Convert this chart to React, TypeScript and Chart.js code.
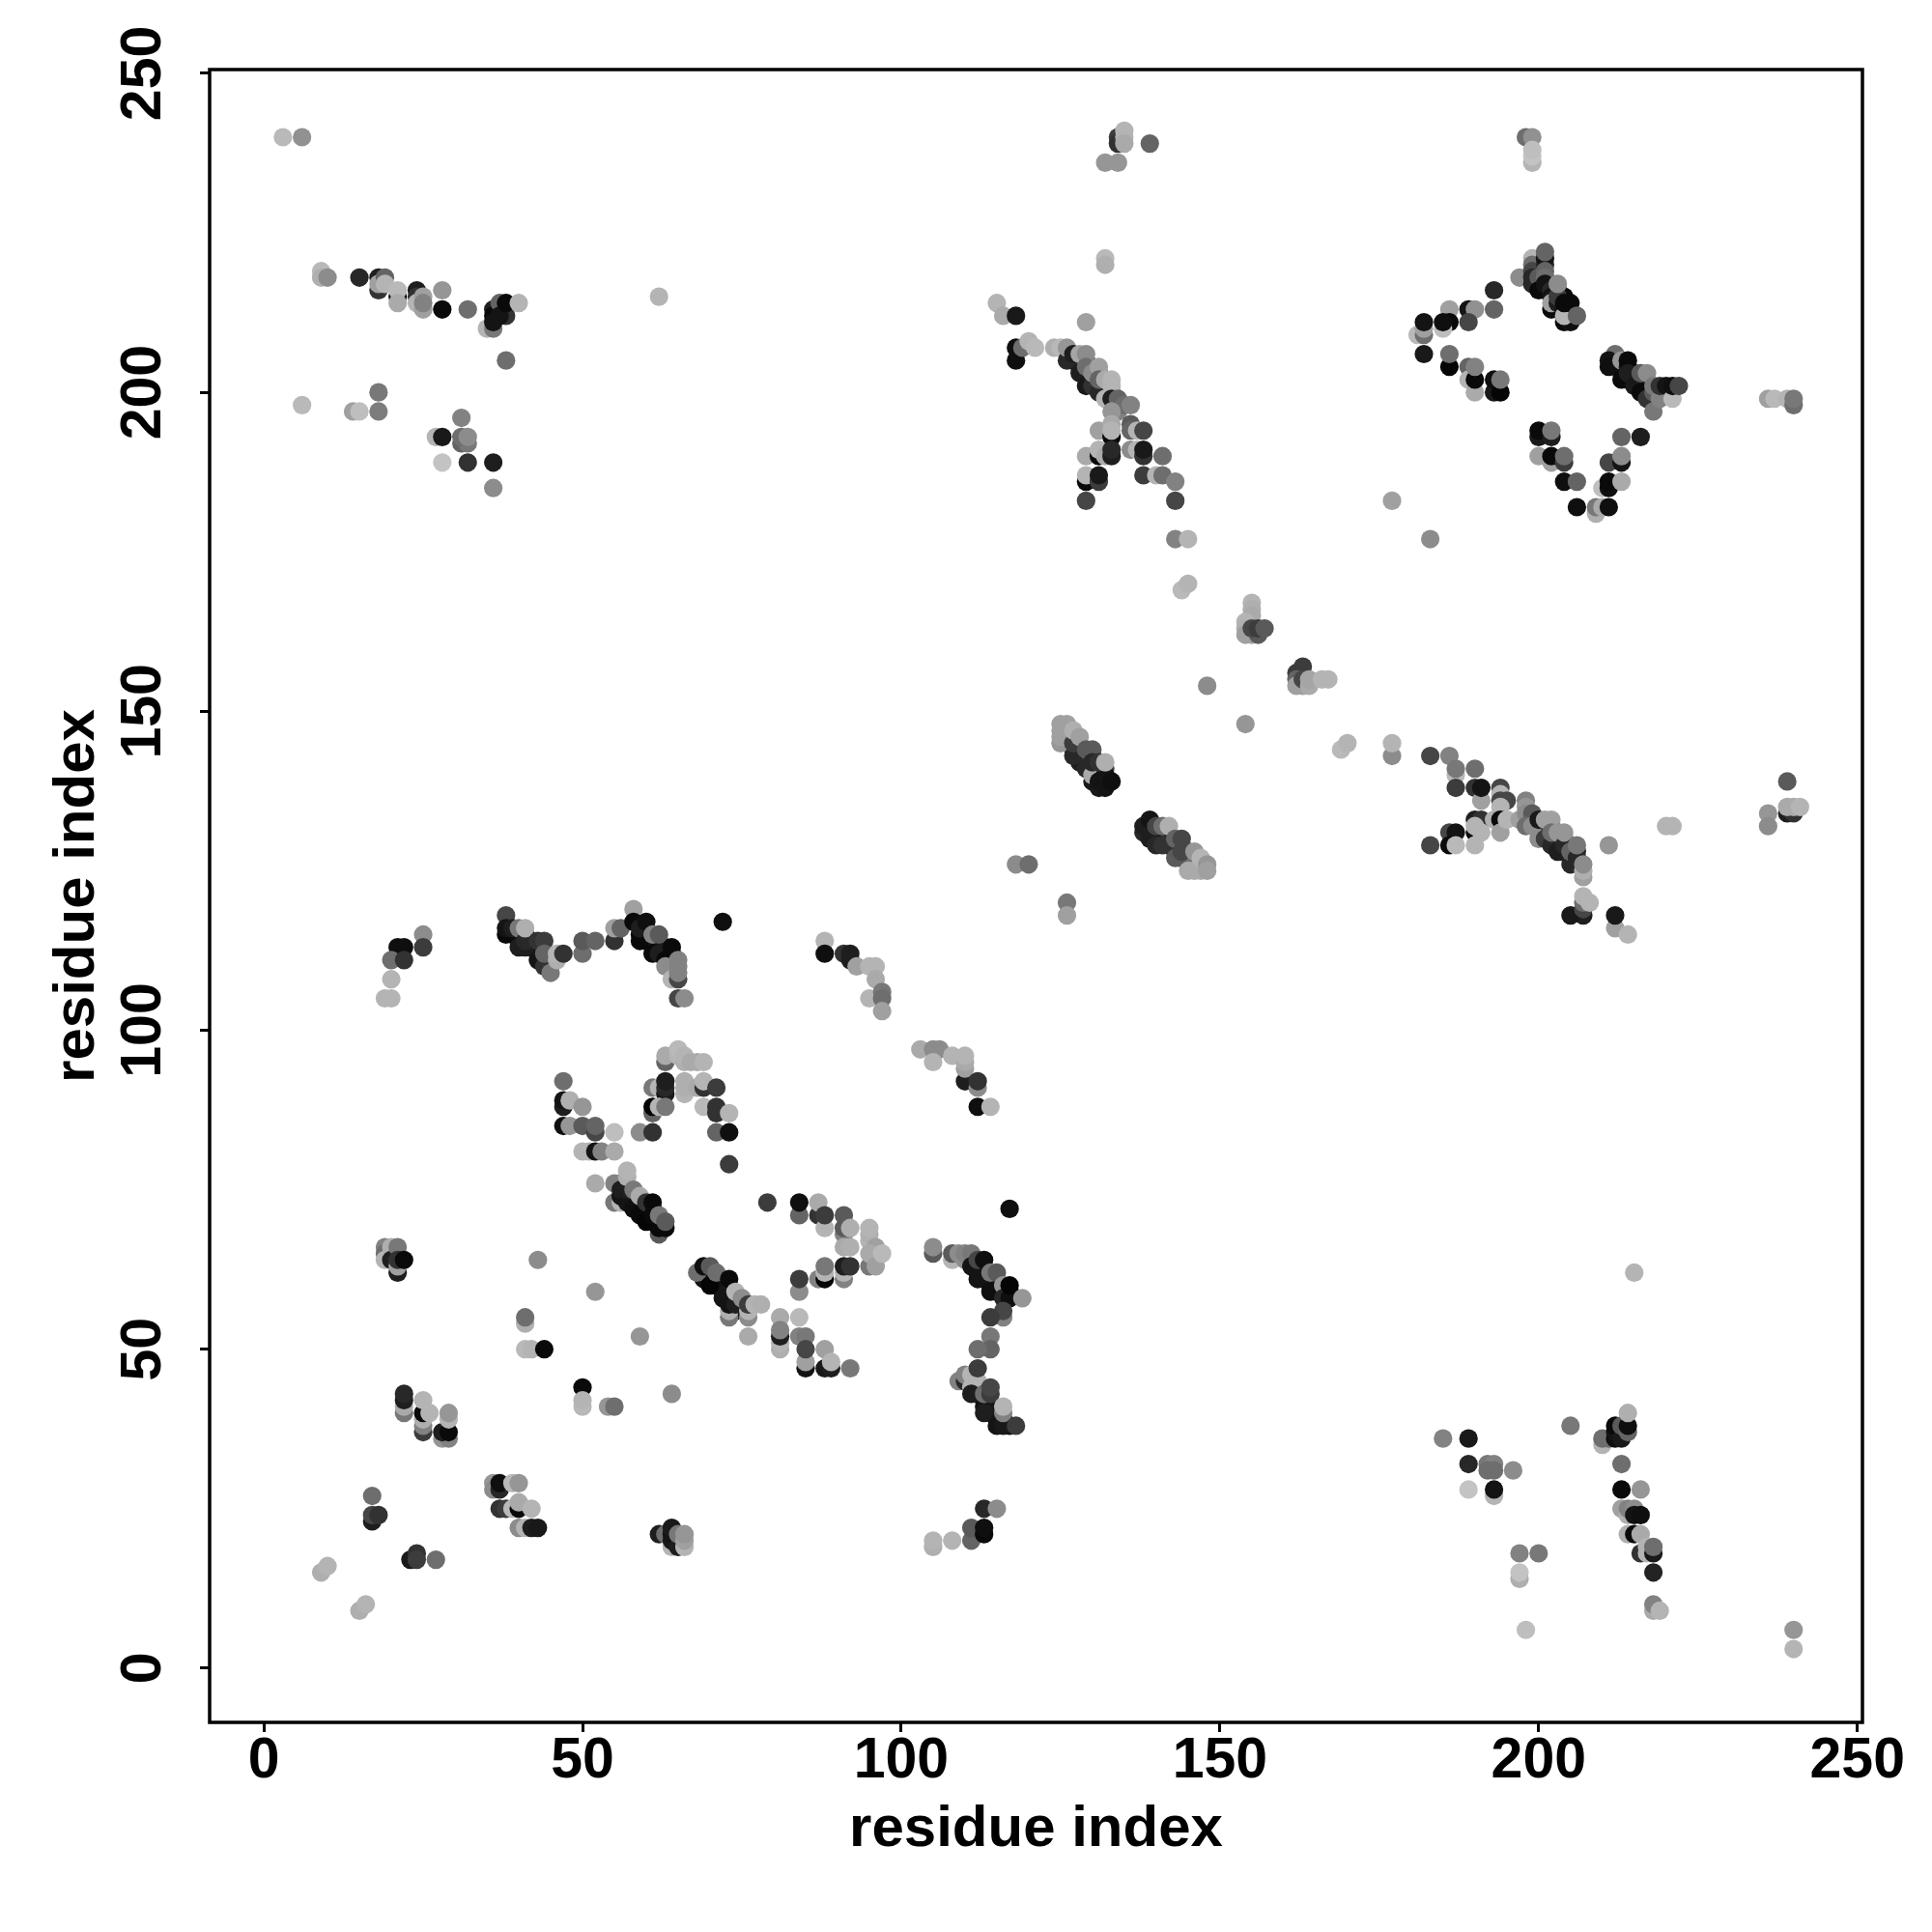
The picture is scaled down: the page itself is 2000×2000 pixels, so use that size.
import React, { useEffect, useRef } from "react";
import { Chart, registerables } from "chart.js";

Chart.register(...registerables);

type Contact = [number, number, number]; // residue x, residue y, grey level

const xTickValues = [0, 50, 100, 150, 200, 250];
const yTickValues = [0, 50, 100, 150, 200, 250];
const axisTitle = "residue index";

const upperLeft: Contact[] = [
  [3,240,175],[6,240,135],[9,219,175],[9,218,165],[10,218,130],[15,218,40],[18,216,50],[18,218,30],[18,217,150],[19,218,90],[19,217,170],
  [21,215,10],[21,216,175],[21,214,160],[24,216,30],[24,215,50],[24,214,170],[25,215,150],[25,213,150],[25,214,120],[28,216,140],[28,213,10],[32,213,100],
  [35,210,170],[36,210,110],[36,213,30],[36,212,10],[36,211,20],[37,214,90],[38,212,50],[37,212,20],[38,214,10],[40,214,170],[38,205,100],[62,215,170],
  [6,198,175],[14,197,150],[15,197,180],[18,200,110],[18,197,115],[31,196,120],[27,193,170],[28,193,25],[31,192,90],[32,192,110],[31,193,100],[32,193,130],
  [28,189,185],[32,189,50],[36,189,30],[36,185,130],
];

const topCentre: Contact[] = [
  [134,240,60],[134,239,50],[135,241,170],[135,240,170],[135,239,160],[132,236,140],[134,236,140],[139,239,90],[132,221,175],[132,220,165],
  [198,240,100],[199,240,135],[199,236,170],[199,237,185],[199,238,180],
];

const diamond: Contact[] = [
  [200,217,15],[201,216,10],[202,217,20],[203,216,15],[204,215,10],[200,219,30],[200,218,20],[203,213,10],[205,212,15],[212,205,15],[213,204,10],[213,203,15],[214,202,10],[215,203,20],[216,202,15],[217,201,15],[217,200,20],[218,199,30],
  [193,216,40],[193,213,90],[189,213,20],[190,213,135],[186,213,150],[189,211,70],[186,211,10],[185,210,180],[185,211,15],[181,209,175],[182,209,100],[182,210,150],[182,211,20],[182,206,25],
  [186,204,5],[186,206,100],[189,204,90],[189,202,170],[190,200,160],[190,202,10],[190,204,120],[193,200,25],[193,202,15],[194,200,5],[194,202,110],
  [197,218,130],[199,221,170],[199,220,100],[199,219,70],[199,218,40],[199,217,40],[200,218,80],[200,216,10],[201,220,40],[201,221,20],[201,219,90],[201,218,100],[201,217,20],[201,222,90],
  [202,216,40],[202,215,20],[202,213,10],[202,214,150],[203,214,30],[203,215,60],[203,217,130],[204,213,20],[204,211,10],[205,211,15],[204,212,170],[204,214,10],[205,214,10],[206,212,90],
  [212,206,100],[211,205,20],[211,204,15],[213,205,140],[214,204,20],[214,205,10],[213,202,10],[214,203,30],[215,202,30],[215,201,25],[216,200,10],[216,203,80],[217,203,130],[217,199,50],[218,197,110],
  [218,200,80],[218,201,110],[219,199,120],[219,201,50],[220,201,20],[221,199,175],[221,201,15],[222,201,70],
  [200,193,25],[200,194,10],[202,193,30],[202,194,110],[200,190,150],[202,189,150],[202,190,10],[204,189,60],[204,190,100],[204,186,15],[206,186,90],
  [206,182,15],[209,181,165],[209,182,110],[210,182,160],[211,182,15],[210,185,180],[211,185,15],[211,186,10],[213,186,160],[211,189,70],[213,189,20],[213,190,130],[213,193,90],[216,193,30],
  [236,199,150],[237,199,175],[239,199,170],[240,198,100],[240,199,110],[177,183,150],[183,177,130],
];

const upperArc: Contact[] = [
  [127,205,20],[128,204,15],[129,203,25],[130,202,20],[131,201,30],[132,200,30],[128,205,40],[129,205,60],[130,204,70],[131,203,60],[132,201,50],[133,200,60],[134,198,80],[134,197,120],
  [115,214,170],[116,212,160],[118,212,25],[118,205,15],[118,207,15],[119,207,100],[120,208,170],[121,207,175],[129,211,150],[124,207,165],[125,207,175],[126,205,40],[126,207,140],
  [127,206,30],[128,206,155],[129,206,130],[128,203,30],[129,201,25],[130,201,50],[129,204,100],[130,203,130],[131,200,40],[131,204,150],[131,202,90],[132,199,170],[132,202,160],[133,202,170],[133,201,170],
  [133,199,30],[134,199,90],[135,198,100],[136,198,120],[133,197,140],[131,194,150],[133,193,10],[133,195,160],[133,194,170],[136,195,80],[136,194,90],[137,194,170],[138,194,70],
  [136,191,130],[137,191,170],[138,190,50],[138,191,25],[141,190,100],[138,187,60],[140,187,170],[141,187,100],[143,186,120],[143,183,70],
  [129,190,160],[131,190,10],[131,191,170],[132,190,160],[133,190,30],[133,191,40],[129,186,10],[129,187,170],[131,186,60],[131,187,25],[129,183,70],
  [143,177,120],[145,177,170],[144,169,175],[145,170,170],
];

const diagonal: Contact[] = [
  [155,167,170],[155,166,165],[155,165,160],[154,164,170],[154,163,165],[154,162,150],[155,162,150],[156,162,80],[155,163,70],[156,163,60],[157,163,80],
  [148,154,130],[154,148,140],[163,157,60],[162,156,60],[162,155,90],[162,154,150],[163,154,150],[163,155,70],[164,154,160],[164,155,155],[166,155,170],[167,155,170],
  [169,144,175],[170,145,170],[177,143,130],[177,145,170],
];

const rightArc: Contact[] = [
  [199,133,40],[200,132,30],[201,131,30],[202,130,40],[203,129,30],[204,128,40],[205,127,30],[206,128,40],[201,132,60],[202,132,80],[203,130,70],[204,130,90],
  [183,143,70],[186,143,120],[187,140,175],[187,141,110],[187,138,60],[190,141,100],[190,138,50],[191,136,150],[191,138,20],[194,138,70],[194,137,170],[194,136,70],[195,136,70],[194,135,170],
  [190,133,30],[191,133,50],[190,131,10],[190,132,170],[191,131,170],[186,131,70],[187,131,20],[186,129,10],[187,129,175],[183,129,70],[190,129,170],
  [193,133,165],[194,133,10],[194,131,150],[195,133,170],[197,133,150],[198,136,120],[198,135,140],[198,134,130],[199,134,80],[198,132,100],[199,132,130],[200,130,130],[200,133,25],[201,130,60],
  [201,133,150],[202,133,150],[202,129,40],[203,128,30],[202,131,100],[203,131,140],[204,129,40],[204,131,140],[205,126,40],[205,128,90],[206,127,40],[206,129,110],[207,124,150],[207,125,165],[207,126,130],
  [207,118,30],[205,118,25],[207,119,70],[207,120,100],[207,121,170],[208,120,170],[212,116,150],[212,118,25],[214,115,170],[211,129,140],[220,132,170],[221,132,170],
  [239,139,80],[236,134,140],[236,132,130],[239,134,30],[240,134,50],[239,135,160],[240,135,160],[241,135,170],
];

const centreStreaks: Contact[] = [
  [118,126,130],[120,126,100],[126,120,110],[126,118,150],
  [127,144,40],[128,143,30],[129,142,25],[130,141,25],[131,140,20],[128,142,30],[129,143,50],[130,139,25],[131,141,30],[132,139,20],[132,141,60],[130,143,60],
  [139,132,20],[140,131,20],[141,130,25],[142,129,30],[143,128,40],[144,127,60],[145,126,90],[140,130,30],[141,131,30],[142,130,40],[143,129,50],[144,129,60],[145,128,80],[146,127,100],
  [125,145,140],[125,146,150],[125,147,150],[125,148,150],[126,148,150],[127,143,40],[127,145,60],[127,147,165],[128,146,150],[129,141,40],[129,144,80],[130,140,160],[130,144,80],[130,142,40],
  [131,138,25],[131,139,20],[132,138,20],[132,140,20],[131,142,50],[132,142,165],[133,139,15],
  [138,131,40],[138,132,30],[139,130,30],[139,133,20],[140,129,40],[140,132,70],[141,129,50],[141,132,100],[142,132,165],[143,127,80],[143,130,90],[144,128,70],[144,130,70],
  [145,125,160],[146,125,160],[147,125,160],[146,128,140],[147,127,170],[148,126,140],[148,125,150],
];

const middleLeft: Contact[] = [
  [39,115,20],[40,114,20],[41,115,30],[42,113,30],[43,112,20],[44,111,30],[42,114,40],
  [59,115,10],[60,115,10],[60,114,15],[61,114,20],[62,113,20],[63,112,15],[63,113,30],[64,110,20],[64,111,15],[64,112,15],
  [25,115,130],[21,113,15],[22,113,15],[25,113,60],[20,111,100],[22,111,50],[20,108,170],[19,105,170],[20,105,170],
  [38,118,70],[38,115,10],[38,116,20],[39,116,30],[40,113,30],[40,116,110],[41,113,30],[41,114,40],[41,116,165],[43,111,20],[43,114,50],[44,114,60],[44,110,50],[45,109,110],[44,112,90],[46,111,165],[46,112,170],[47,112,50],
  [50,112,100],[50,114,80],[52,114,90],[55,114,50],[55,116,150],[56,116,90],[58,119,150],[58,117,10],[59,114,10],[59,116,30],[60,117,15],[61,112,10],[61,115,120],[62,112,30],[62,115,80],[63,111,10],[63,110,130],[64,113,10],
  [64,108,170],[65,108,70],[65,109,120],[65,110,120],[65,111,120],[65,105,70],[66,105,130],[72,117,15],
  [88,114,170],[88,112,15],[91,112,50],[92,111,30],[92,112,30],[93,110,150],[95,110,170],[96,110,170],[96,108,160],[95,105,170],[97,106,110],[97,105,100],[97,103,150],
  [103,97,160],[105,97,130],[106,97,130],[105,95,170],[108,96,170],[110,92,30],[110,94,150],[110,95,160],[110,96,170],[112,91,130],[112,92,50],[112,88,15],[114,88,170],
];

const humpAndStreaks: Contact[] = [
  [69,62,15],[70,61,10],[71,60,10],[72,59,15],[73,58,15],[74,56,25],[70,62,20],[71,61,15],[72,60,20],[73,59,25],[74,58,30],[75,57,40],[69,61,20],
  [57,74,15],[58,73,10],[59,72,10],[60,71,10],[61,70,10],[62,70,15],[58,74,25],[59,73,20],[60,72,25],[61,72,30],[56,76,40],
  [47,92,100],[47,88,30],[47,89,20],[48,89,165],[50,88,140],[47,85,15],[48,85,140],[50,85,80],[52,84,70],[52,85,90],[55,84,180],[50,81,170],[51,81,170],[52,81,20],[53,81,120],[55,81,160],
  [52,76,160],[55,76,120],[55,73,110],[56,73,170],[56,74,20],[56,75,30],[57,73,20],[57,75,30],[58,72,15],[57,77,165],[57,78,170],[58,75,110],[59,71,10],[59,74,160],[60,70,5],[60,73,50],[61,73,10],[61,71,10],[62,68,80],[62,69,10],[63,69,10],[62,71,110],[63,70,80],
  [61,91,110],[62,91,170],[63,95,90],[63,96,160],[65,96,170],[65,97,175],[66,95,165],[66,96,170],[67,95,160],[68,95,160],[69,95,170],[63,90,25],[63,91,40],[63,92,30],[66,90,170],[66,91,165],[66,92,165],[68,91,160],[69,91,50],[69,92,170],[71,91,60],
  [61,87,90],[61,88,5],[62,88,170],[63,88,110],[69,88,175],[71,87,50],[71,88,50],[73,87,170],[59,84,130],[61,84,50],[71,84,90],[73,84,15],[73,79,60],
  [79,73,60],[84,71,90],[84,73,15],[87,71,50],[87,73,160],[88,69,170],[88,71,60],[91,68,120],[91,69,80],[91,71,80],[92,69,165],[95,67,170],[95,68,165],[95,69,170],[96,66,150],[95,63,110],[95,65,160],[96,63,150],[97,65,175],
  [91,66,160],[92,66,165],[91,61,120],[91,62,170],[91,63,30],[92,63,50],[87,61,120],[88,61,5],[88,62,170],[88,63,110],[84,59,130],[84,61,60],
  [68,62,100],[69,63,15],[70,60,5],[70,63,80],[71,62,100],[72,58,20],[73,55,110],[73,56,165],[73,57,20],[73,61,10],[74,57,30],[74,59,170],[75,58,130],[76,55,130],[76,56,170],[76,57,60],[77,57,170],[78,57,165],[76,52,160],
  [81,55,160],[84,55,175],[81,50,165],[81,51,170],[81,52,30],[81,53,120],[84,52,120],[85,52,110],[85,47,20],[85,48,150],[85,50,70],[88,50,150],[88,47,25],[89,47,30],[89,48,170],[92,47,110],
  [52,59,140],[59,52,140],[44,50,10],[43,64,130],
];

const lowerLeft: Contact[] = [
  [19,66,120],[19,65,100],[19,64,170],[20,66,165],[20,64,30],[21,66,110],[21,62,30],[21,63,150],[21,64,50],[22,64,10],
  [41,54,165],[41,55,100],[41,50,175],[42,50,170],[50,44,10],[50,41,175],[50,42,170],[54,41,140],[55,41,100],[64,43,130],
  [22,40,110],[22,41,160],[22,42,30],[22,43,40],[25,37,60],[25,38,120],[25,39,165],[25,40,10],[25,42,170],[26,40,170],
  [28,36,140],[29,36,120],[28,37,30],[29,37,10],[29,39,170],[29,40,140],
  [17,27,100],[17,23,30],[17,24,70],[18,24,50],[23,17,25],[24,18,50],[24,17,60],[27,17,100],[9,15,165],[10,16,170],[15,9,165],[16,10,170],
  [36,29,140],[36,28,130],[37,28,40],[37,29,15],[39,29,175],[40,29,140],[37,25,50],[38,25,60],[39,25,175],[40,25,10],[40,26,160],[42,25,170],[40,22,130],[41,22,170],[42,22,30],[43,22,25],
  [62,21,30],[63,21,100],[64,19,170],[64,20,25],[64,21,20],[64,22,25],[65,19,30],[65,21,110],[66,19,170],[66,20,150],[66,21,140],
  [105,19,165],[105,20,170],[108,20,170],[111,20,90],[111,22,80],[113,21,10],[113,22,15],[113,25,40],[115,25,130],
];

const verticalBand: Contact[] = [
  [111,64,15],[112,63,10],[113,62,10],[114,61,15],[115,60,10],[116,59,10],[117,59,10],[112,62,15],[113,61,15],[114,60,20],[115,59,15],
  [111,45,20],[112,44,15],[113,42,15],[114,41,20],[115,40,15],[116,39,15],[112,43,20],[113,41,20],[114,40,25],[115,39,20],[117,38,15],
  [105,65,80],[105,66,130],[108,64,170],[108,65,80],[109,65,130],[110,64,130],[110,65,120],[111,65,110],[111,63,20],[112,61,20],[112,64,70],[113,64,15],[114,59,15],[114,62,110],[115,62,80],[116,60,140],
  [116,58,40],[117,58,15],[117,60,5],[119,58,140],[116,55,120],[116,56,70],[114,55,60],[114,52,110],[114,50,90],[112,50,100],[117,72,15],[215,62,170],
  [109,45,120],[110,45,40],[110,46,120],[111,44,170],[111,46,170],[112,45,170],[112,47,60],[111,43,30],[113,40,30],[113,43,100],[114,43,60],[114,44,70],[115,38,20],[116,38,25],[116,40,120],[116,41,170],[118,38,60],
];

const lowerRight: Contact[] = [
  [185,36,120],[189,36,25],[189,32,40],[192,32,110],[193,32,120],[192,31,100],[193,31,100],[196,31,130],[189,28,185],[193,27,170],[193,28,20],
  [197,18,120],[200,18,110],[197,14,165],[197,15,185],[198,6,180],[240,6,140],[240,3,170],[205,38,110],
  [210,35,170],[210,36,100],[211,36,100],[212,36,15],[212,37,20],[212,38,10],[213,36,25],[213,38,80],[214,37,90],[214,38,15],[214,40,165],
  [213,32,100],[213,28,10],[216,28,140],[213,25,150],[214,24,165],[214,25,120],[215,25,130],[215,24,20],[216,24,15],
  [214,21,165],[215,21,10],[216,21,160],[216,18,50],[217,18,170],[217,19,170],[218,18,25],[218,19,100],[218,15,35],[218,9,160],[218,10,120],[219,9,170],
];

const contactGroups: Contact[][] = [
  upperLeft, topCentre, diamond, upperArc, diagonal, rightArc, centreStreaks,
  middleLeft, humpAndStreaks, lowerLeft, verticalBand, lowerRight,
];

const frame = {
  id: "frame",
  afterDraw(chart: Chart) {
    const { ctx, chartArea: a } = chart;
    ctx.save();
    ctx.strokeStyle = "#000";
    ctx.lineWidth = 3.5;
    ctx.strokeRect(a.left, a.top, a.right - a.left, a.bottom - a.top);
    ctx.restore();
  },
};

const greyOf = (g: number) => {
  const v = g >= 80 ? g + 10 : g;
  return `rgb(${v},${v},${v})`;
};

const tickFont = { family: "'Liberation Sans'", size: 59, weight: "bold" as const };
const titleFont = { family: "'Liberation Sans'", size: 60, weight: "bold" as const };

export default function App() {
  const ref = useRef<HTMLCanvasElement>(null);
  useEffect(() => {
    const chart = new Chart(ref.current!, {
      type: "scatter",
      data: {
        datasets: contactGroups.map((group) => ({
          data: group.map(([x, y]) => ({ x, y })),
          backgroundColor: group.map(([, , g]) => greyOf(g)),
          borderWidth: 0,
          pointRadius: 9.6,
        })),
      },
      options: {
        animation: false,
        responsive: false,
        devicePixelRatio: 1,
        layout: { padding: { left: 0, right: 72, top: 72, bottom: 0 } },
        plugins: { legend: { display: false }, tooltip: { enabled: false } },
        scales: {
          x: {
            type: "linear",
            min: -8.5,
            max: 250.8,
            afterFit: (s: any) => { s.height = 217; },
            afterBuildTicks: (s: any) => { s.ticks = xTickValues.map((value) => ({ value })); },
            grid: { drawOnChartArea: false, color: "#000", lineWidth: 3, tickLength: 10 },
            border: { display: false },
            ticks: { color: "#000", font: tickFont, padding: -5, maxRotation: 0, autoSkip: false },
            title: { display: true, text: axisTitle, color: "#000", font: titleFont, padding: { top: 0, bottom: 70 } },
          },
          y: {
            type: "linear",
            min: -8.5,
            max: 250.6,
            afterFit: (s: any) => { s.width = 217; },
            afterBuildTicks: (s: any) => { s.ticks = yTickValues.map((value) => ({ value })); },
            grid: { drawOnChartArea: false, color: "#000", lineWidth: 3, tickLength: 10 },
            border: { display: false },
            ticks: { color: "#000", font: tickFont, padding: 8, minRotation: 90, maxRotation: 90, crossAlign: "center", autoSkip: false },
            title: { display: true, text: axisTitle, color: "#000", font: titleFont, padding: { top: 44, bottom: 0 } },
          },
        },
      },
      plugins: [frame],
    } as any);
    return () => chart.destroy();
  }, []);
  return (
    <canvas
      ref={ref}
      width={2000}
      height={2000}
      style={{ position: "fixed", left: 0, top: 0, width: 2000, height: 2000, display: "block", background: "#fff" }}
    />
  );
}
